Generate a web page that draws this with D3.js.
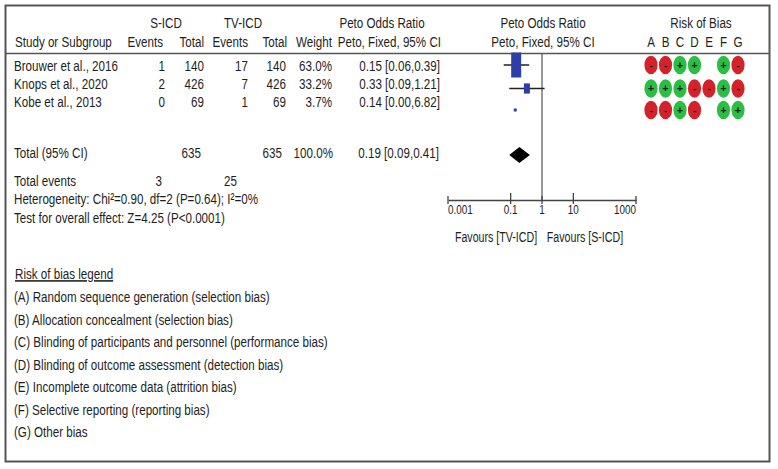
<!DOCTYPE html>
<html><head><meta charset="utf-8">
<script src="https://cdn.jsdelivr.net/npm/d3@7/dist/d3.min.js"></script>
<style>
body{margin:0;background:#fff;}
svg text{font-family:"Liberation Sans",Arial,sans-serif;fill:#1e1e1e;}
</style></head>
<body><svg id="c" width="778" height="469"></svg>
<script>
// ---- data ----
const studies = ["Brouwer et al., 2016", "Knops et al., 2020", "Kobe et al., 2013"];
const sicdEvents = [1, 2, 0];
const sicdTotal = [140, 426, 69];
const tvicdEvents = [17, 7, 1];
const tvicdTotal = [140, 426, 69];
const weights = [63.0, 33.2, 3.7];
const orValue = [0.15, 0.33, 0.14];
const ciLow = [0.06, 0.09, 0.00];
const ciHigh = [0.39, 1.21, 6.82];
const showCI = [true, true, false];
const total = {sicd: 635, tvicd: 635, weight: 100.0, or: 0.19, lo: 0.09, hi: 0.41, evS: 3, evT: 25};
const axisTicks = [0.001, 0.1, 1, 10, 1000];
const axisTickLabels = ["0.001", "0.1", "1", "10", "1000"];
const biasDomains = ["A", "B", "C", "D", "E", "F", "G"];
const biasJudgements = [
  ["-", "-", "+", "+", "", "+", "-"],
  ["+", "+", "+", "-", "-", "+", "-"],
  ["-", "-", "+", "-", "", "+", "+"]
];
const legendItems = [
  "(A) Random sequence generation (selection bias)",
  "(B) Allocation concealment (selection bias)",
  "(C) Blinding of participants and personnel (performance bias)",
  "(D) Blinding of outcome assessment (detection bias)",
  "(E) Incomplete outcome data (attrition bias)",
  "(F) Selective reporting (reporting bias)",
  "(G) Other bias"
];

// ---- drawing ----
const svg = d3.select("#c");
svg.append("rect").attr("width", 778).attr("height", 469).attr("fill", "#fff");
svg.append("rect").attr("x", 5.5).attr("y", 5.5).attr("width", 764).attr("height", 456)
  .attr("fill", "none").attr("stroke", "#555").attr("stroke-width", 2);

const fs = 15.5, fw = 0.83 * 14 / 15.5;
// text drawn in a horizontally condensed frame to mimic a narrow face
function txt(x, y, s, anchor, size, squeeze) {
  return svg.append("text")
    .attr("transform", `translate(${x},${y}) scale(${squeeze || fw},1)`)
    .attr("text-anchor", anchor || "start")
    .attr("font-size", size || fs).text(s);
}

// header
txt(166, 28, "S-ICD", "middle");
txt(243, 28, "TV-ICD", "middle");
txt(382, 28, "Peto Odds Ratio", "middle");
txt(543, 28, "Peto Odds Ratio", "middle");
txt(701, 28, "Risk of Bias", "middle");
txt(15, 47, "Study or Subgroup");
txt(163, 47, "Events", "end");
txt(204, 47, "Total", "end");
txt(248, 47, "Events", "end");
txt(287, 47, "Total", "end");
txt(332, 47, "Weight", "end");
txt(441, 47, "Peto, Fixed, 95% CI", "end");
txt(543, 47, "Peto, Fixed, 95% CI", "middle");

const colX = d3.scalePoint().domain(biasDomains).range([651, 738]);
biasDomains.forEach(d => txt(colX(d), 47, d, "middle"));

svg.append("line").attr("x1", 5).attr("x2", 770).attr("y1", 53.5).attr("y2", 53.5)
  .attr("stroke", "#555").attr("stroke-width", 1.5);

// study rows
const textY = [71, 89, 107];
const markY = [65, 88.5, 110];
const f2 = d3.format(".2f");
const pct = d => d3.format(".1f")(d) + "%";
studies.forEach((s, i) => {
  txt(14, textY[i], s);
  txt(165, textY[i], sicdEvents[i], "end");
  txt(204, textY[i], sicdTotal[i], "end");
  txt(248, textY[i], tvicdEvents[i], "end");
  txt(286, textY[i], tvicdTotal[i], "end");
  txt(332, textY[i], pct(weights[i]), "end");
  txt(440, textY[i], `${f2(orValue[i])} [${f2(ciLow[i])},${f2(ciHigh[i])}]`, "end");
});

// totals
txt(14, 158, "Total (95% CI)");
txt(201, 158, total.sicd, "end");
txt(282, 158, total.tvicd, "end");
txt(333, 158, pct(total.weight), "end");
txt(439, 158, `${f2(total.or)} [${f2(total.lo)},${f2(total.hi)}]`, "end");
txt(14, 186, "Total events");
txt(162, 186, total.evS, "end");
txt(237, 186, total.evT, "end");
txt(14, 204, "Heterogeneity: Chi\u00B2=0.90, df=2 (P=0.64); I\u00B2=0%");
txt(14, 223, "Test for overall effect: Z=4.25 (P<0.0001)");

// forest plot
const x = d3.scaleLog().domain([0.001, 1000]).range([448, 636]);
const axisY = 200;
svg.append("line").attr("x1", x(1)).attr("x2", x(1)).attr("y1", 54).attr("y2", axisY)
  .attr("stroke", "#555").attr("stroke-width", 1.2);
const axisG = svg.append("g").attr("transform", `translate(0,${axisY})`)
  .call(d3.axisBottom(x).tickValues(axisTicks).tickSize(0).tickFormat(""));
axisG.select(".domain").attr("stroke", "#444").attr("stroke-width", 1.3);
axisTicks.forEach((t, i) => {
  const big = (i === 1 || i === 3);
  svg.append("line").attr("x1", x(t)).attr("x2", x(t))
    .attr("y1", axisY - (big ? 7 : 4)).attr("y2", axisY + 4)
    .attr("stroke", "#444").attr("stroke-width", 1.3);
  const anchor = i === 0 ? "start" : (i === axisTicks.length - 1 ? "end" : "middle");
  txt(x(t), 214, axisTickLabels[i], anchor, 13, 0.76);
});
txt(496, 242, "Favours [TV-ICD]", "middle", 15, 0.71);
txt(585, 242, "Favours [S-ICD]", "middle", 15, 0.71);

const wScale = d3.scalePow().exponent(0.8).domain([0, 63]).range([0, 10]);
const hScale = d3.scalePow().exponent(1.4).domain([0, 63]).range([0, 25]);
studies.forEach((s, i) => {
  if (showCI[i]) {
    svg.append("line").attr("x1", x(ciLow[i])).attr("x2", x(ciHigh[i]))
      .attr("y1", markY[i]).attr("y2", markY[i]).attr("stroke", "#222").attr("stroke-width", 1.5);
  }
  const w = Math.max(3, wScale(weights[i])), h = Math.max(3, hScale(weights[i]));
  svg.append("rect").attr("x", x(orValue[i]) - w / 2).attr("y", markY[i] - h / 2)
    .attr("width", w).attr("height", h).attr("fill", "#2d3fa6");
});
const dy = 155, dh = 8;
svg.append("path").attr("d",
  `M${x(total.lo)},${dy} L${x(total.or)},${dy - dh} L${x(total.hi)},${dy} L${x(total.or)},${dy + dh} Z`)
  .attr("fill", "#000");

// risk of bias
const defs = svg.append("defs");
defs.append("filter").attr("id", "soft").append("feGaussianBlur").attr("stdDeviation", 0.5);
biasJudgements.forEach((row, i) => {
  row.forEach((j, k) => {
    if (!j) return;
    const cx = colX(biasDomains[k]);
    svg.append("ellipse").attr("cx", cx).attr("cy", markY[i]).attr("rx", 6.6).attr("ry", 9.3)
      .attr("fill", j === "+" ? "#2cbe45" : "#d3222c").attr("filter", "url(#soft)");
    svg.append("text").attr("x", cx).attr("y", markY[i] + 3.5).attr("text-anchor", "middle")
      .attr("font-size", 11).style("font-weight", "bold").style("fill", "#222")
      .text(j === "+" ? "+" : "-");
  });
});

// legend
txt(15, 279, "Risk of bias legend").style("text-decoration", "underline");
legendItems.forEach((s, i) => txt(14, 302 + i * 22.5, s));
</script></body></html>
